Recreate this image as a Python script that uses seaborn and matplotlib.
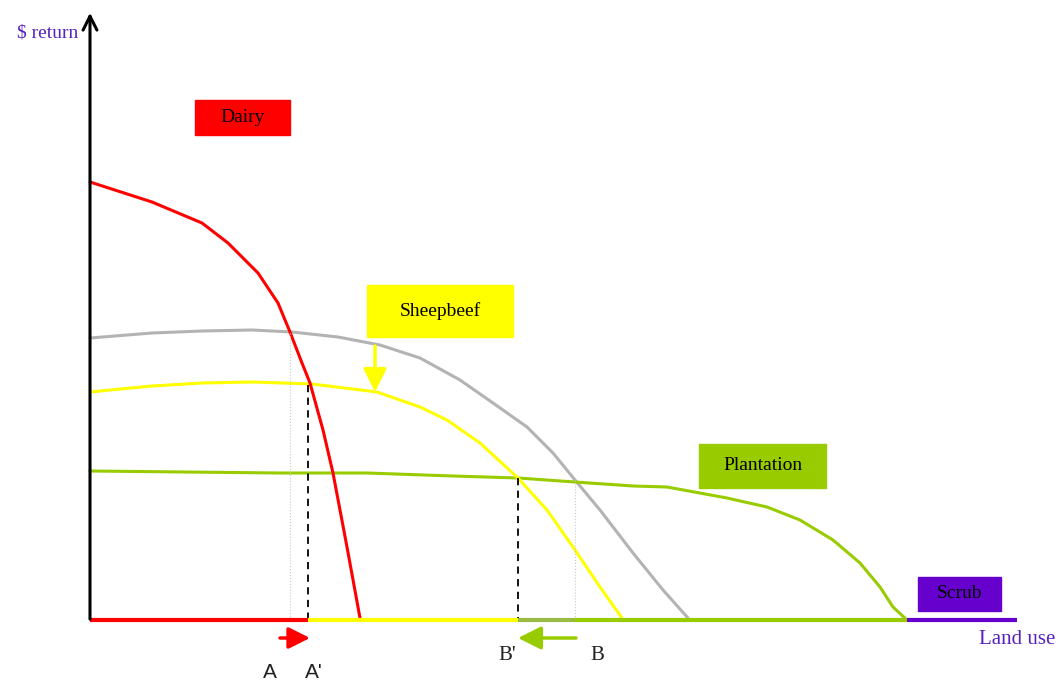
import matplotlib.pyplot as plt
import pandas as pd
import seaborn as sns

# curve points (x = land, y = $ return, pixel space)
dairy_x = [90, 152, 202, 228, 258, 278, 290, 302, 310, 323, 333, 347, 360]
dairy_y = [182, 202, 223, 243, 273, 303, 332, 363, 383, 430, 473, 547, 618]

gray_x = [90, 152, 202, 252, 292, 338, 380, 420, 460, 493, 527, 553, 575,
          600, 633, 663, 688]
gray_y = [338, 333, 331, 330, 332, 337, 345, 358, 380, 403, 427, 453, 480,
          510, 553, 590, 618]

sheep_x = [90, 152, 202, 252, 312, 377, 420, 447, 480, 518, 547, 573, 600,
           622]
sheep_y = [392, 386, 383, 382, 384, 392, 407, 420, 443, 478, 510, 547, 587,
           618]

plant_x = [90, 280, 367, 453, 518, 575, 633, 667, 727, 767, 800, 833, 860,
           880, 893, 907]
plant_y = [471, 473, 473, 476, 478, 482, 486, 487, 498, 507, 520, 540, 563,
           587, 607, 620]

# land-use segments along the bottom axis
seg_start = [90, 308, 518, 575, 907]
seg_end = [308, 518, 575, 907, 1017]
seg_colors = ['#ff0000', '#ffff00', '#99bb44', '#99cc00', '#6600cc']

box_labels = ['Dairy', 'Sheepbeef', 'Plantation', 'Scrub']
box_colors = ['#ff0000', '#ffff00', '#99cc00', '#6600cc']
box_rects = [(195, 100, 95, 35), (367, 285, 146, 52),
             (699, 444, 127, 44), (918, 577, 83, 34)]

sns.set_style('white')
plt.rcParams['font.family'] = ['Liberation Serif', 'DejaVu Serif']

fig = plt.figure(figsize=(10.57, 6.84), dpi=100)
ax = fig.add_axes([0, 0, 1, 1])
ax.set_xlim(0, 1057)
ax.set_ylim(684, 0)
ax.axis('off')

curves = [
    (gray_x, gray_y, '#b3b3b3'),
    (plant_x, plant_y, '#99cc00'),
    (sheep_x, sheep_y, '#ffff00'),
    (dairy_x, dairy_y, '#ff0000'),
]
for xs, ys, col in curves:
    df = pd.DataFrame({'x': xs, 'y': ys})
    sns.lineplot(data=df, x='x', y='y', color=col, linewidth=2.2,
                 sort=False, ax=ax)

# guide lines
ax.plot([290, 290], [333, 620], color='#c8c8c8', lw=0.8, ls=':')
ax.plot([575, 575], [480, 620], color='#c8c8c8', lw=0.8, ls=':')
ax.plot([308, 308], [385, 620], color='black', lw=1.3, ls=(0, (4, 3)))
ax.plot([518, 518], [478, 620], color='black', lw=1.3, ls=(0, (4, 3)))

for s, e, c in zip(seg_start, seg_end, seg_colors):
    ax.plot([s, e], [620, 620], color=c, lw=3.0, solid_capstyle='butt')

# y axis arrow
ax.annotate('', xy=(90, 10), xytext=(90, 622),
            arrowprops=dict(arrowstyle='->,head_width=0.5,head_length=1.0',
                            color='black', lw=2.2))

for label, (x, y, w, h), col in zip(box_labels, box_rects, box_colors):
    ax.add_patch(plt.Rectangle((x, y), w, h, color=col, zorder=3))
    ax.text(x + w / 2, y + h / 2, label, ha='center', va='center',
            fontsize=14, color='black', zorder=4)

# shift arrows
head = '-|>,head_width=0.5,head_length=1.0'
ax.annotate('', xy=(310, 638), xytext=(280, 638),
            arrowprops=dict(arrowstyle=head, color='#ff0000', lw=2.5,
                            mutation_scale=13, shrinkA=0, shrinkB=0))
ax.annotate('', xy=(518, 638), xytext=(576, 638),
            arrowprops=dict(arrowstyle=head, color='#99cc00', lw=2.5,
                            mutation_scale=14, shrinkA=0, shrinkB=0))
ax.annotate('', xy=(375, 392), xytext=(375, 346),
            arrowprops=dict(arrowstyle=head, color='#ffff00', lw=2.5,
                            mutation_scale=14, shrinkA=0, shrinkB=0))

ax.text(78, 33, '$ return', ha='right', va='center', fontsize=14,
        color='#5522bb')
ax.text(1055, 640, 'Land use', ha='right', va='center', fontsize=15,
        color='#5522bb')

for txt, x, y in [('A', 270, 672), ("A'", 314, 672)]:
    ax.text(x, y, txt, ha='center', va='center', fontsize=15,
            color='#222222', family=['Liberation Sans', 'DejaVu Sans'])
for txt, x, y in [("B'", 507, 656), ('B', 597, 656)]:
    ax.text(x, y, txt, ha='center', va='center', fontsize=15,
            color='#222222')

fig.savefig('out.png', dpi=100)
